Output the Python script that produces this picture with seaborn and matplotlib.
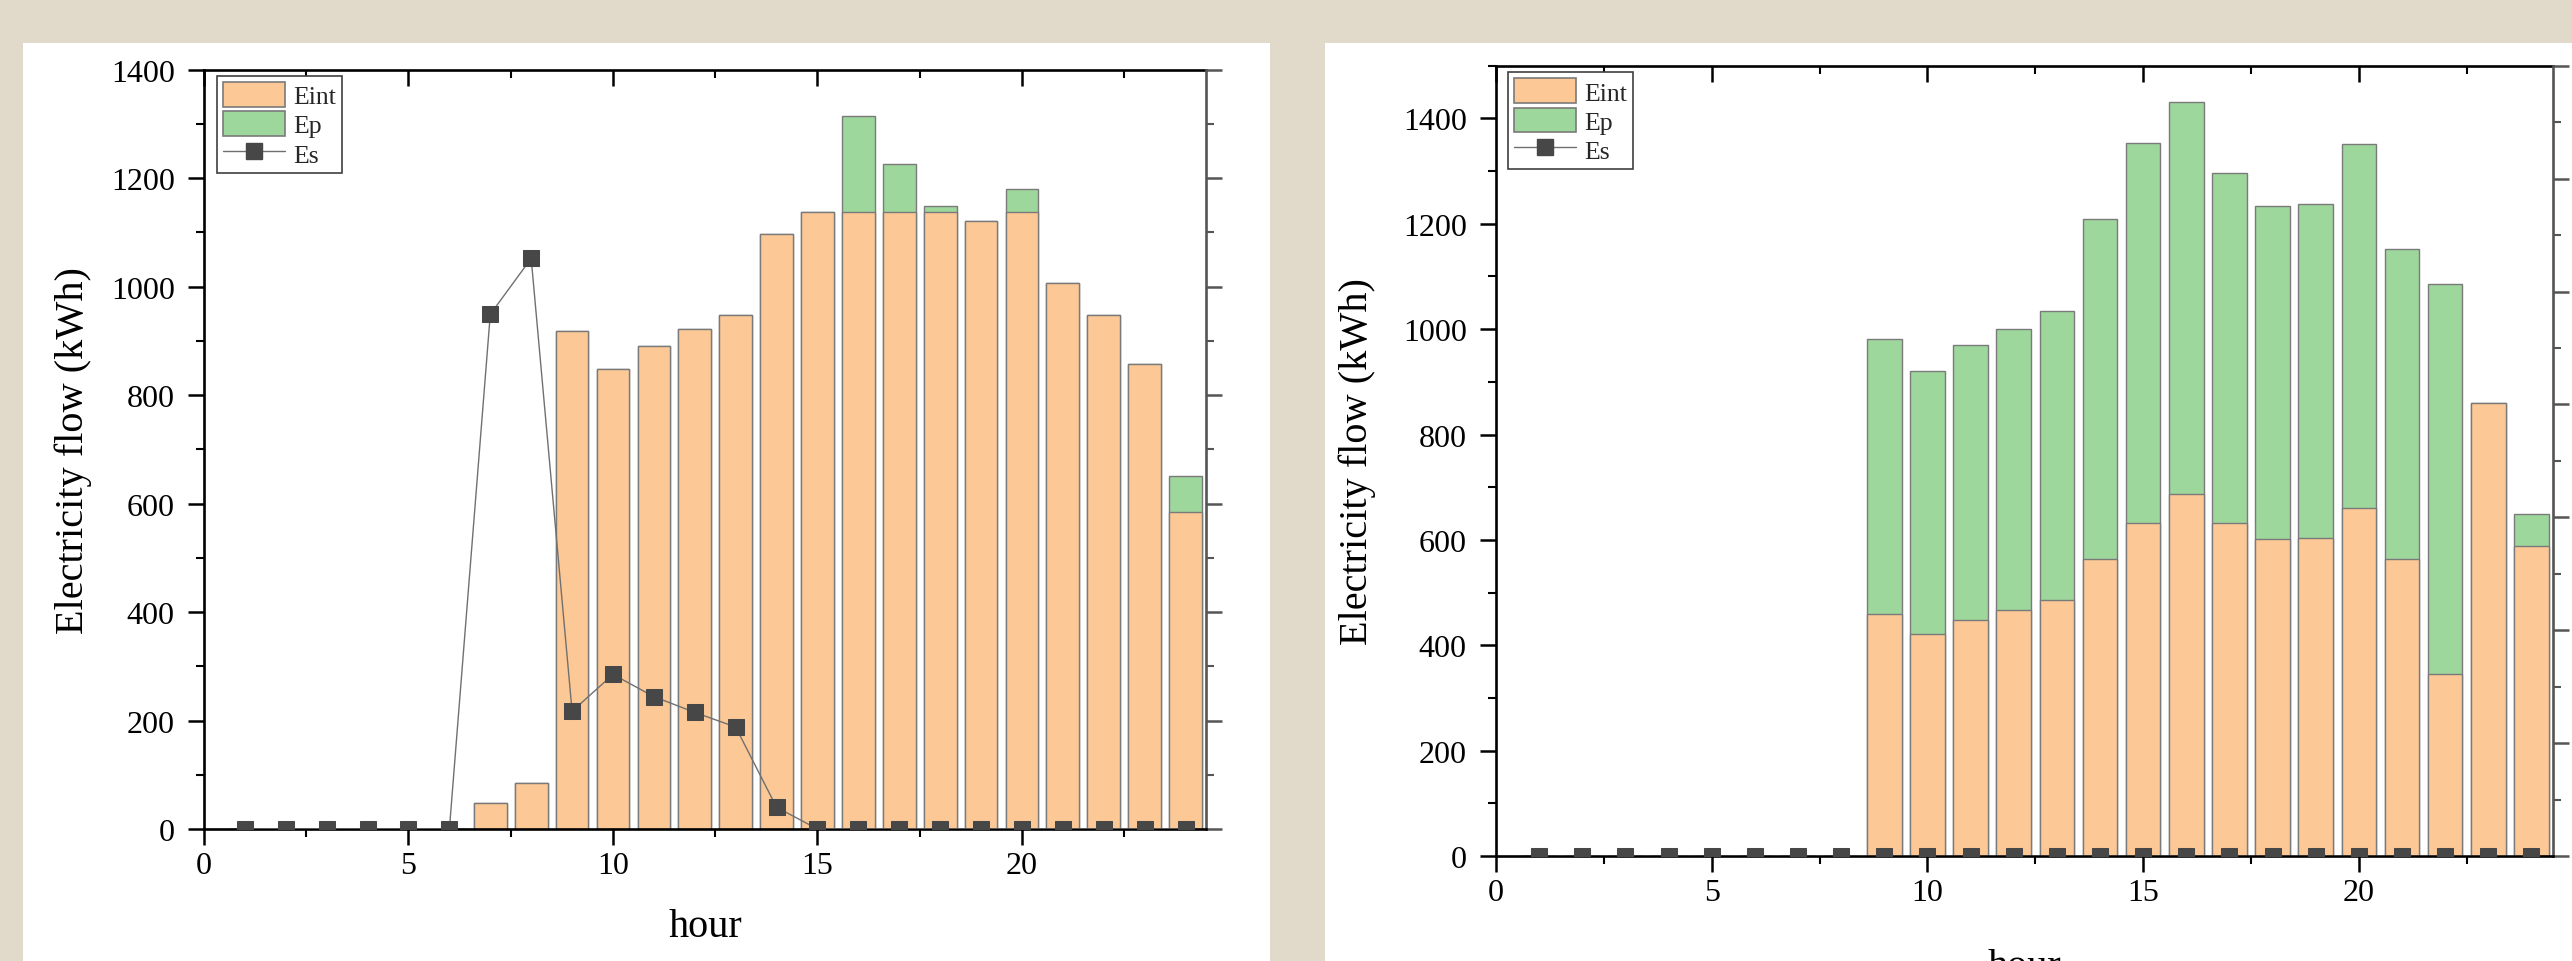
import matplotlib
matplotlib.use('Agg')
import matplotlib.pyplot as plt
import seaborn as sns
from matplotlib.patches import Patch, Rectangle
from matplotlib.lines import Line2D
from matplotlib.ticker import MultipleLocator

hours = [1, 2, 3, 4, 5, 6, 7, 8, 9, 10, 11, 12,
         13, 14, 15, 16, 17, 18, 19, 20, 21, 22, 23, 24]

# left chart
left_eint = [0, 0, 0, 0, 0, 0, 48, 85, 919, 849, 891, 922,
             948, 1097, 1138, 1138, 1138, 1138, 1121, 1138, 1006, 948, 858, 585]
left_ep = [0, 0, 0, 0, 0, 0, 0, 0, 0, 0, 0, 0,
           0, 0, 0, 176, 88, 11, 0, 42, 0, 0, 0, 66]
left_es = [0, 0, 0, 0, 0, 0, 949, 1052, 217, 285, 244, 215,
           188, 40, 0, 0, 0, 0, 0, 0, 0, 0, 0, 0]

# right chart
right_eint = [0, 0, 0, 0, 0, 0, 0, 0, 459, 421, 448, 466,
              485, 564, 632, 687, 632, 601, 603, 660, 564, 345, 859, 588]
right_ep = [0, 0, 0, 0, 0, 0, 0, 0, 522, 500, 522, 534,
            550, 645, 722, 744, 664, 633, 635, 692, 589, 740, 0, 62]
right_es = [0, 0, 0, 0, 0, 0, 0, 0, 0, 0, 0, 0,
            0, 0, 0, 0, 0, 0, 0, 0, 0, 0, 0, 0]

EINT_COLOR = '#fcc896'
EP_COLOR = '#9dd79b'
ES_MARKER = '#474747'
ES_LINE = '#707070'
BAR_EDGE = '#7a7a7a'
BG = '#e1d9c9'

sns.set_theme(style='ticks')
plt.rcParams['font.family'] = ['Liberation Serif', 'DejaVu Serif']

W, H = 2572, 962
fig = plt.figure(figsize=(W / 100, H / 100), dpi=100, facecolor=BG)

# white panels (behind the axes)
fig.patches.append(Rectangle((23 / W, 0), (1270 - 23) / W, (H - 44) / H,
                             transform=fig.transFigure, facecolor='white',
                             edgecolor='none', zorder=-5))
fig.patches.append(Rectangle((1325 / W, 0), (W - 1325) / W, (H - 44) / H,
                             transform=fig.transFigure, facecolor='white',
                             edgecolor='none', zorder=-5))


def draw_panel(rect, eint, ep, es, ymax, right_max, ylab_x, xlab_y, leg_anchor):
    ax = fig.add_axes(rect)
    ax.set_facecolor('none')
    total = [a + b for a, b in zip(eint, ep)]

    # stacked bars: total (green) first, then Eint over it
    sns.barplot(x=hours, y=total, ax=ax, native_scale=True, color=EP_COLOR,
                saturation=1, width=0.8, edgecolor=BAR_EDGE, linewidth=1.0,
                errorbar=None, zorder=1)
    sns.barplot(x=hours, y=eint, ax=ax, native_scale=True, color=EINT_COLOR,
                saturation=1, width=0.8, edgecolor=BAR_EDGE, linewidth=1.0,
                errorbar=None, zorder=1)
    sns.lineplot(x=hours, y=es, ax=ax, color=ES_LINE, lw=1.0, marker='s',
                 markersize=11, markerfacecolor=ES_MARKER,
                 markeredgecolor=ES_MARKER, zorder=3)

    ax.set_xlim(0, 24.5)
    ax.set_ylim(0, ymax)
    ax.xaxis.set_major_locator(MultipleLocator(5))
    ax.xaxis.set_minor_locator(MultipleLocator(2.5))
    ax.yaxis.set_major_locator(MultipleLocator(200))
    ax.yaxis.set_minor_locator(MultipleLocator(100))
    ax.tick_params(which='major', direction='out', length=11.5, width=1.8,
                   color='black', labelsize=23, labelcolor='black')
    ax.tick_params(which='minor', direction='out', length=6, width=1.5,
                   color='black')
    ax.tick_params(axis='x', which='major', pad=4)
    ax.tick_params(axis='y', which='major', pad=9.5)
    ax.spines[['top', 'right']].set_visible(False)
    for s in ['left', 'bottom']:
        ax.spines[s].set_linewidth(1.9)
        ax.spines[s].set_color('black')

    # top axis: ticks pointing in
    top = ax.secondary_xaxis('top')
    top.xaxis.set_major_locator(MultipleLocator(5))
    top.xaxis.set_minor_locator(MultipleLocator(2.5))
    top.tick_params(which='major', direction='in', length=11.5, width=1.8,
                    color='black', labeltop=False)
    top.tick_params(which='minor', direction='in', length=6, width=1.5,
                    color='black')
    top.spines['top'].set_linewidth(1.9)
    top.spines['top'].set_color('black')

    # right axis (own scale, no labels)
    k = right_max / ymax
    right = ax.secondary_yaxis('right', functions=(lambda v: v * k,
                                                   lambda v: v / k))
    right.yaxis.set_major_locator(MultipleLocator(200))
    right.yaxis.set_minor_locator(MultipleLocator(100))
    right.tick_params(which='major', direction='out', length=11.5, width=1.8,
                      color='#555555', labelright=False)
    right.tick_params(which='minor', direction='out', length=6, width=1.5,
                      color='#555555')
    right.spines['right'].set_linewidth(1.9)
    right.spines['right'].set_color('#555555')

    ax.set_ylabel('Electricity flow (kWh)', fontsize=29, color='black')
    ax.set_xlabel('hour', fontsize=29, color='black')
    ax.yaxis.set_label_coords(ylab_x, 0.5)
    ax.xaxis.set_label_coords(0.5, xlab_y)

    handles = [
        Patch(facecolor=EINT_COLOR, edgecolor=BAR_EDGE, linewidth=1.2, label='Eint'),
        Patch(facecolor=EP_COLOR, edgecolor=BAR_EDGE, linewidth=1.2, label='Ep'),
        Line2D([], [], color=ES_LINE, lw=1.0, marker='s', markersize=11,
               markerfacecolor=ES_MARKER, markeredgecolor=ES_MARKER, label='Es'),
    ]
    leg = ax.legend(handles=handles, loc='upper left', bbox_to_anchor=leg_anchor,
                    borderaxespad=0, fontsize=18.5, handlelength=2.4,
                    handleheight=1.1, labelspacing=0.12, handletextpad=0.3,
                    borderpad=0.25, fancybox=False, framealpha=1)
    leg.get_frame().set_edgecolor('#404040')
    leg.get_frame().set_linewidth(1.2)
    return ax


# left panel: axes 204..1206 x, 70.7..830 y
draw_panel([204 / W, (H - 830) / H, (1206 - 204) / W, (830 - 70.7) / H],
           left_eint, left_ep, left_es, 1400, 1400,
           -0.112, -0.104, (0.013, 0.992))

# right panel: axes 1496..2553 x, 66.7..857 y
draw_panel([1496 / W, (H - 857) / H, (2553 - 1496) / W, (857 - 66.7) / H],
           right_eint, right_ep, right_es, 1500, 1400,
           -0.1135, -0.116, (0.0114, 0.992))

fig.savefig('out.png', dpi=100, facecolor=fig.get_facecolor())
plt.close(fig)
